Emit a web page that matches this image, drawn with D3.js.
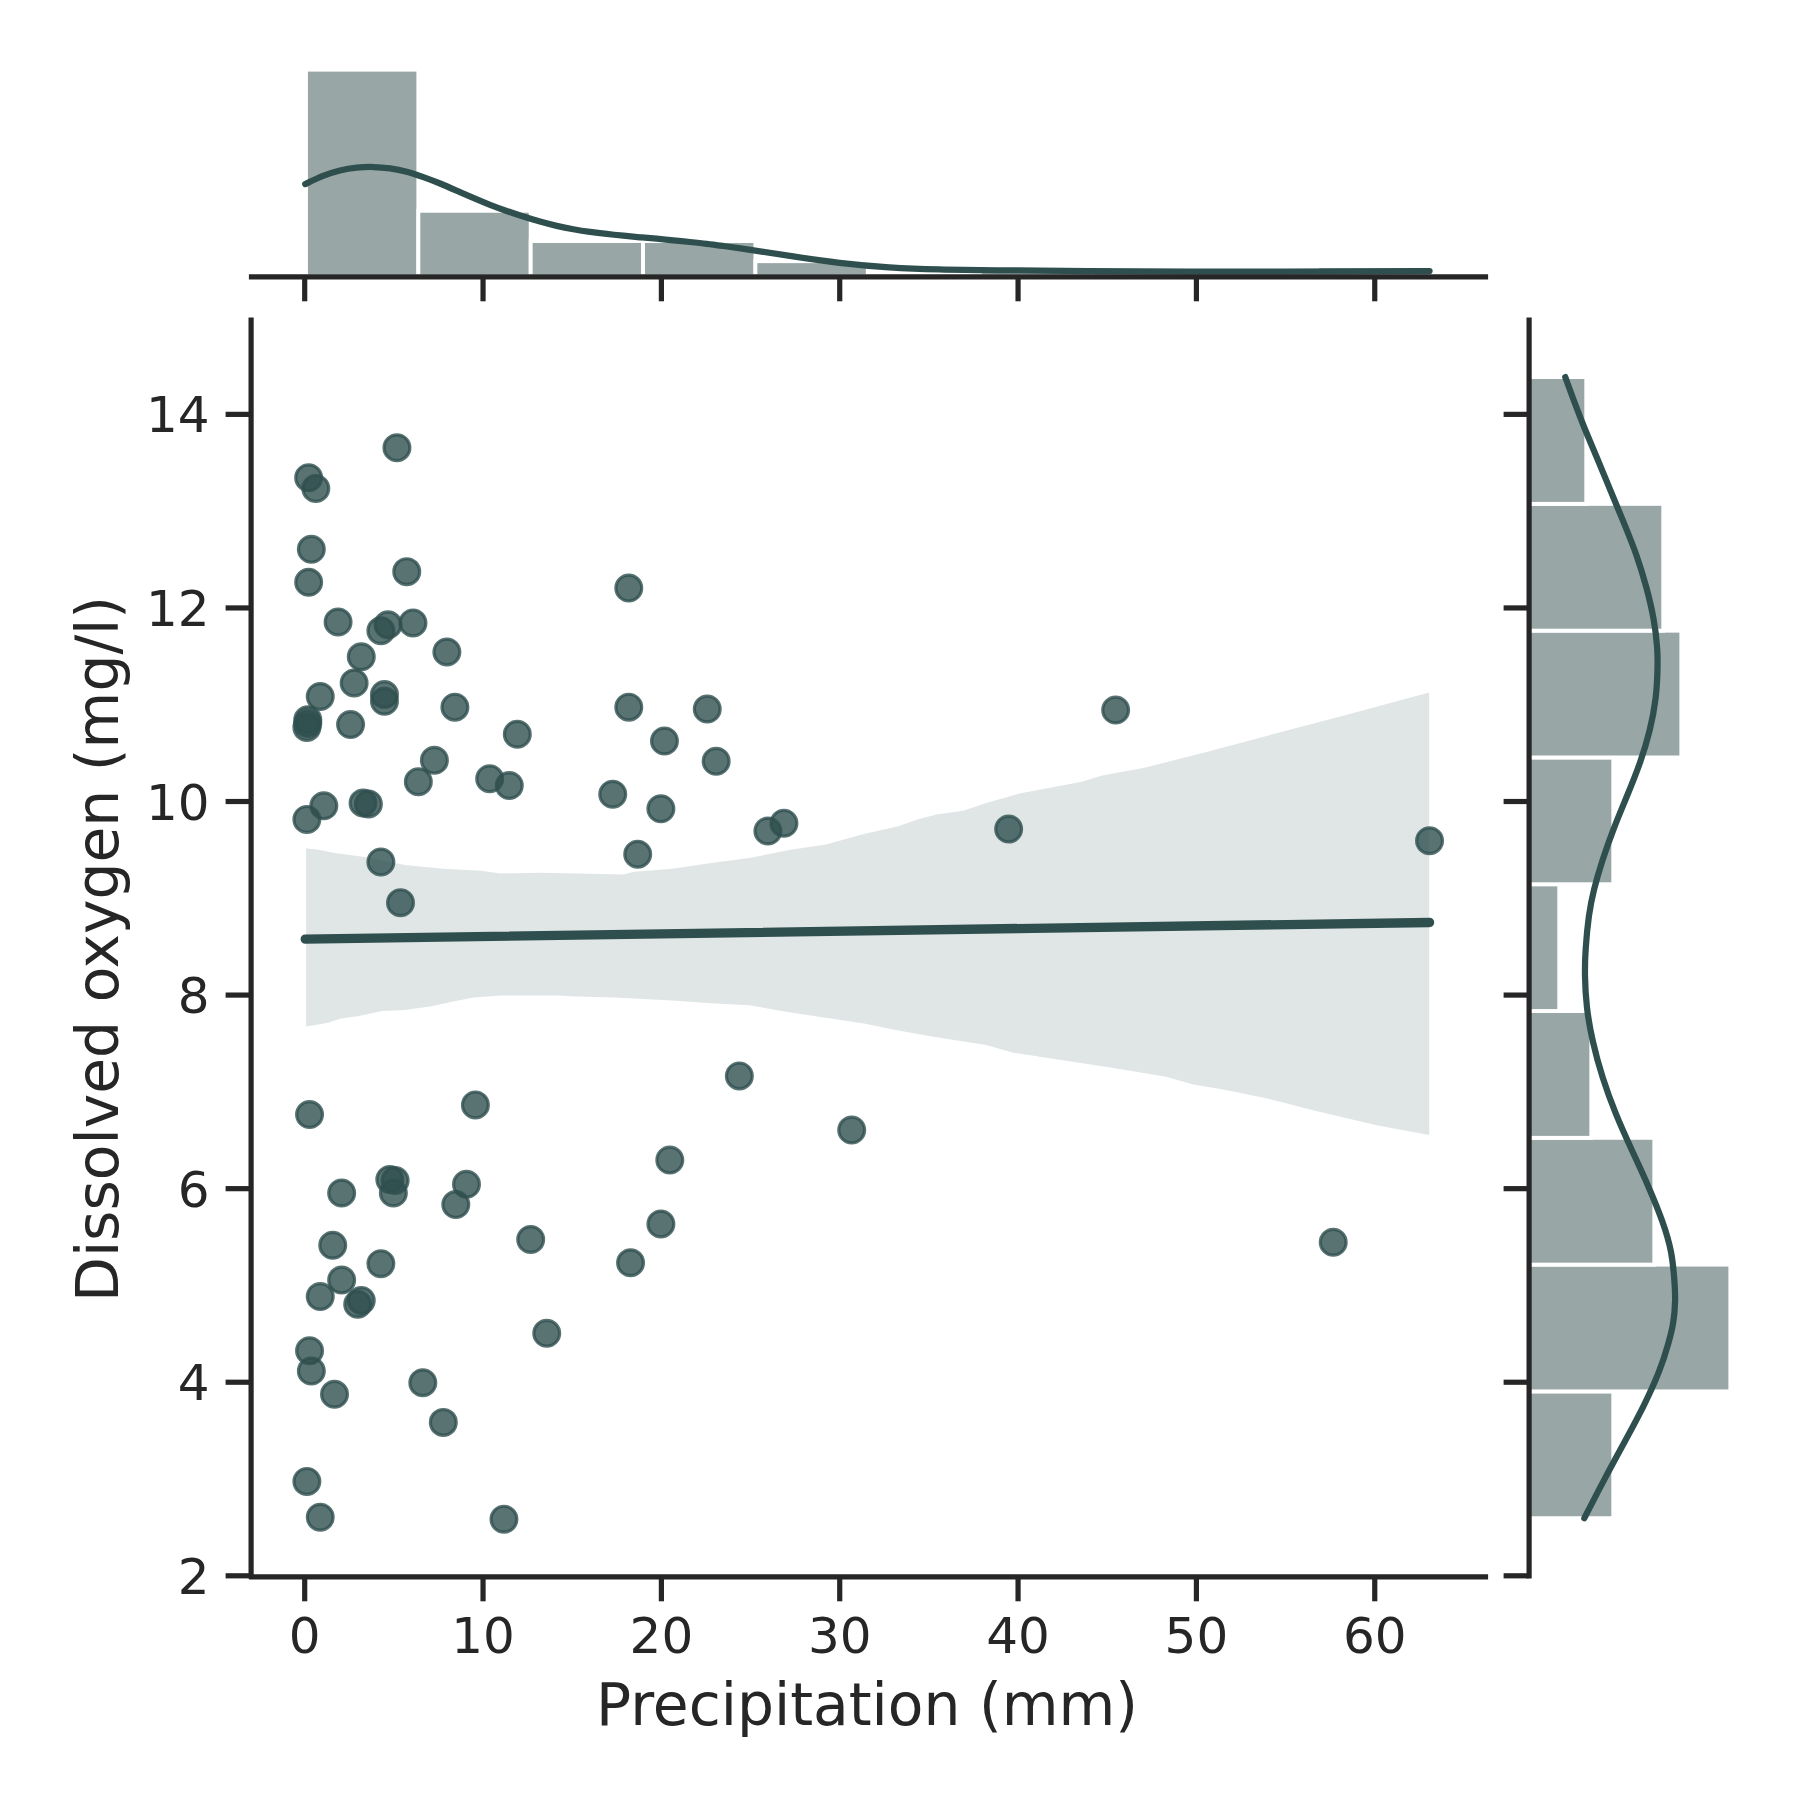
<!DOCTYPE html>
<html>
<head>
<meta charset="utf-8">
<script src="https://cdn.jsdelivr.net/npm/d3@7"></script>
<style>
html,body{margin:0;padding:0;background:#fff}
svg{display:block}
text{font-family:"DejaVu Sans",sans-serif;fill:#262626}
</style>
</head>
<body>
<svg id="c" width="1800" height="1800"></svg>
<script>
const precipitation = [5.2,0.25,0.65,0.4,0.25,5.75,18.2,1.9,4.3,4.7,6.1,8.0,3.2,2.8,4.5,4.5,0.9,8.45,18.2,22.6,45.5,0.2,0.2,0.15,2.6,11.95,20.2,23.1,7.3,6.4,10.4,11.5,17.3,3.3,3.6,1.1,20,0.15,26,26.9,39.5,63.1,18.7,4.3,5.4,24.4,9.6,0.3,30.7,20.5,4.8,5.1,5,2.1,9.1,8.5,20,12.7,1.6,57.7,4.3,18.3,2.1,0.9,3.0,3.2,13.6,0.3,0.4,6.65,1.7,7.8,0.15,0.9,11.2];
const oxygen = [13.65,13.34,13.23,12.6,12.26,12.37,12.2,11.85,11.76,11.82,11.84,11.54,11.49,11.22,11.1,11.03,11.08,10.97,10.97,10.95,10.94,10.84,10.8,10.76,10.79,10.69,10.62,10.41,10.42,10.2,10.23,10.16,10.07,9.98,9.97,9.95,9.92,9.81,9.69,9.77,9.71,9.59,9.45,9.37,8.95,7.16,6.86,6.76,6.6,6.29,6.09,6.08,5.95,5.95,6.04,5.83,5.63,5.47,5.41,5.44,5.22,5.23,5.05,4.88,4.8,4.84,4.5,4.32,4.11,3.99,3.87,3.58,2.97,2.6,2.58];

const xTicks = [0,10,20,30,40,50,60];
const yTicks = [2,4,6,8,10,12,14];
const xLabel = "Precipitation (mm)";
const yLabel = "Dissolved oxygen (mg/l)";

const regX = [0.06,63.1];
const regY = [8.573,8.745];

const ciUpperX = [0.105,0.71,1.78,3.5,5.64,7.79,9.93,11.0,13.15,15.3,17.87,18.52,20.66,22.81,24.96,27.1,29.25,31.39,33.31,34.39,35.46,36.96,38.25,40.18,41.9,43.61,44.69,47.05,50.48,54.13,58.63,63.08];
const ciUpperY = [9.51,9.50,9.46,9.42,9.34,9.30,9.28,9.25,9.26,9.25,9.24,9.27,9.30,9.36,9.41,9.49,9.55,9.66,9.74,9.81,9.86,9.90,9.98,10.08,10.14,10.20,10.26,10.34,10.50,10.68,10.90,11.12];
const ciLowerX = [0.105,1.35,1.99,3.07,4.35,5.64,7.14,8.43,9.5,11.0,14.23,15.3,17.44,20.66,22.81,24.96,27.1,29.25,31.39,33.31,35.46,38.25,39.75,41.9,45.12,48.33,49.84,51.55,54.13,56.92,60.14,63.08];
const ciLowerY = [7.67,7.71,7.75,7.78,7.83,7.84,7.88,7.93,7.97,7.99,7.99,7.98,7.97,7.94,7.91,7.89,7.82,7.76,7.70,7.63,7.56,7.48,7.40,7.34,7.25,7.15,7.07,7.02,6.92,6.79,6.65,6.55];

const topBinEdges = [0.1,6.4,12.7,19,25.3,31.6,37.9,44.2,50.5,56.8,63.1];
const topBinCounts = [41,13,7,7,3,0,1,1,0,2];
const topKdeX = [0.06,1.07,2.01,2.94,3.88,4.81,5.75,6.68,7.62,8.55,9.48,10.42,11.35,12.29,13.22,14.16,15.09,16.03,16.96,17.9,18.83,19.76,20.7,21.63,22.57,23.5,24.44,25.56,27.23,30.02,32.8,35.6,38.4,43.96,49.55,55.2,59.3,63.1];
const topKdeH = [18.3,20.03,21.09,21.62,21.75,21.49,20.83,19.7,18.45,16.99,15.54,14.15,12.96,11.83,10.84,9.98,9.32,8.79,8.39,8.06,7.73,7.47,7.14,6.81,6.47,6.01,5.55,4.95,4.03,2.58,1.71,1.31,1.19,1.05,0.91,0.91,1.0,1.05];

const rightBinEdges = [2.59,3.90,5.21,6.52,7.83,9.14,10.45,11.76,13.07,14.38];
const rightBinWidths = [6.05,14.41,8.98,4.48,2.19,6.05,10.91,9.62,4.12];
const rightKdeY = [14.38,14.14,13.87,13.55,13.21,12.88,12.54,12.2,11.87,11.57,11.36,11.06,10.73,10.39,10.05,9.72,9.38,9.08,8.83,8.46,8.21,7.87,7.53,7.15,6.77,6.39,6.02,5.64,5.34,5.05,4.84,4.6,4.4,4.12,3.74,3.36,2.98,2.59];
const rightKdeW = [2.62,3.22,3.93,4.88,5.84,6.79,7.74,8.45,8.98,9.22,9.22,9.12,8.69,7.98,7.03,6.07,5.24,4.64,4.29,4.05,4.0,4.12,4.53,5.24,6.19,7.38,8.57,9.64,10.24,10.42,10.5,10.36,10.0,9.41,8.22,6.79,5.36,3.98];

const dark = "#2f4f4f", ink = "#262626";
const svg = d3.select("#c");
svg.append("rect").attr("width",1800).attr("height",1800).attr("fill","#fff");

const x = d3.scaleLinear().domain([-2.983,66.21]).range([251,1485]);
const y = d3.scaleLinear().domain([2,14.975]).range([1575.3,319.5]);
const topH = d3.scaleLinear().domain([0,60]).range([276.3,276.3-60*5.04]);
const rightW = d3.scaleLinear().domain([0,20]).range([1528.6,1528.6+20*14]);

// main panel
const points = precipitation.map((p,i)=>({p,o:oxygen[i]}));
svg.append("g").selectAll("circle").data(points).join("circle")
  .attr("cx",d=>x(d.p)).attr("cy",d=>y(d.o)).attr("r",12.9)
  .attr("fill",dark).attr("fill-opacity",0.8)
  .attr("stroke",dark).attr("stroke-opacity",0.8).attr("stroke-width",3.2);

const bandPts = ciUpperX.map((v,i)=>[x(v),y(ciUpperY[i])])
  .concat(ciLowerX.map((v,i)=>[x(v),y(ciLowerY[i])]).reverse());
svg.append("path").attr("d",d3.line()(bandPts)+"Z").attr("fill",dark).attr("fill-opacity",0.15);

svg.append("path").attr("d",d3.line()(regX.map((v,i)=>[x(v),y(regY[i])])))
  .attr("fill","none").attr("stroke",dark).attr("stroke-width",9.4).attr("stroke-linecap","round");

// top marginal
svg.append("g").selectAll("rect").data(topBinCounts).join("rect")
  .attr("x",(d,i)=>x(topBinEdges[i])).attr("width",(d,i)=>x(topBinEdges[i+1])-x(topBinEdges[i]))
  .attr("y",d=>topH(d)).attr("height",d=>topH(0)-topH(d))
  .attr("fill","#98a7a6").attr("stroke","#fff").attr("stroke-width",3.9);
svg.append("path").attr("d",d3.line().curve(d3.curveBasis)(topKdeX.map((v,i)=>[x(v),topH(topKdeH[i])])))
  .attr("fill","none").attr("stroke",dark).attr("stroke-width",6.25).attr("stroke-linecap","round");

// right marginal
svg.append("g").selectAll("rect").data(rightBinWidths).join("rect")
  .attr("x",rightW(0)).attr("width",d=>rightW(d)-rightW(0))
  .attr("y",(d,i)=>y(rightBinEdges[i+1])).attr("height",(d,i)=>y(rightBinEdges[i])-y(rightBinEdges[i+1]))
  .attr("fill","#98a7a6").attr("stroke","#fff").attr("stroke-width",3.9);
svg.append("path").attr("d",d3.line().curve(d3.curveBasis)(rightKdeY.map((v,i)=>[rightW(rightKdeW[i]),y(v)])))
  .attr("fill","none").attr("stroke",dark).attr("stroke-width",6.25).attr("stroke-linecap","round");

// axes
function style(g,fs){
  g.selectAll(".domain").attr("stroke",ink).attr("stroke-width",5.2).attr("stroke-linecap","square");
  g.selectAll(".tick line").attr("stroke",ink).attr("stroke-width",5.2);
  g.selectAll("text").attr("font-size",fs).attr("font-family",'"DejaVu Sans"').attr("fill",ink);
}
const fmt = d3.format("d");
svg.append("g").attr("transform","translate(0,1576.3)")
  .call(d3.axisBottom(x).tickValues(xTicks).tickFormat(fmt).tickSizeInner(25).tickSizeOuter(0).tickPadding(16))
  .call(style,50);
svg.append("g").attr("transform","translate(250.6,0)")
  .call(d3.axisLeft(y).tickValues(yTicks).tickFormat(fmt).tickSizeInner(25).tickSizeOuter(0).tickPadding(16))
  .call(style,50)
  .call(g=>g.selectAll("text").attr("dy","0.36em"));
svg.append("g").attr("transform","translate(0,276.3)")
  .call(d3.axisBottom(x).tickValues(xTicks).tickFormat("").tickSizeInner(25).tickSizeOuter(0))
  .call(style,50);
svg.append("g").attr("transform","translate(1528.6,0)")
  .call(d3.axisLeft(y).tickValues(yTicks).tickFormat("").tickSizeInner(25).tickSizeOuter(0))
  .call(style,50);

svg.append("text").attr("x",867).attr("y",1725).attr("text-anchor","middle").attr("font-size",58.3).text(xLabel);
svg.append("text").attr("transform","translate(118,949) rotate(-90)").attr("text-anchor","middle").attr("font-size",58.3).text(yLabel);
</script>
</body>
</html>
